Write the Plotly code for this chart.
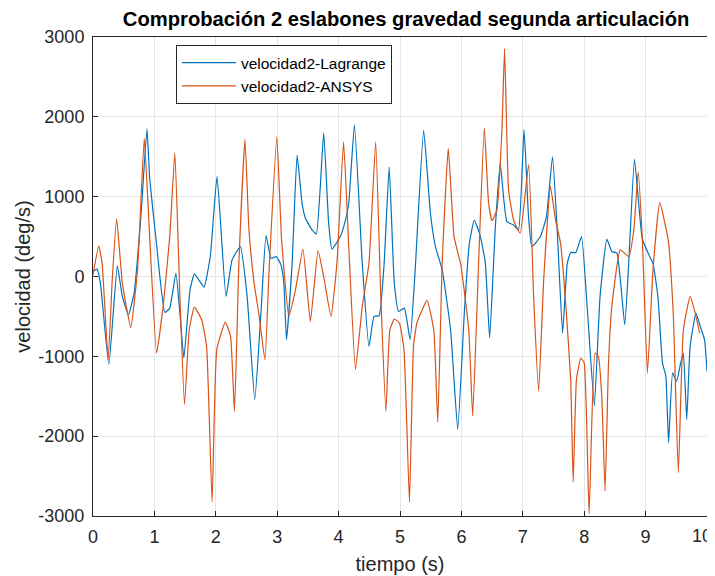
import plotly.graph_objects as go

# Lagrange series (time s, velocity deg/s)
t_lag = [0.00, 0.066, 0.12, 0.258, 0.396, 0.478, 0.577, 0.67, 0.78, 0.879, 0.923, 1.033, 1.17, 1.25,
         1.35, 1.415, 1.48, 1.58, 1.65, 1.74, 1.81, 1.91, 2.02, 2.166, 2.265, 2.40, 2.51, 2.635, 2.735,
         2.818, 2.90, 2.983, 3.06, 3.108, 3.151, 3.243, 3.324, 3.405, 3.46, 3.568, 3.638, 3.757, 3.838,
         3.892, 4.027, 4.11, 4.165, 4.258, 4.385, 4.495, 4.577, 4.66, 4.742, 4.824, 4.907, 4.978, 5.071,
         5.165, 5.247, 5.385, 5.495, 5.577, 5.687, 5.824, 5.94, 6.05, 6.13, 6.21, 6.31, 6.39, 6.46, 6.55,
         6.632, 6.74, 6.85, 6.93, 7.02, 7.093, 7.148, 7.286, 7.385, 7.484, 7.56, 7.648, 7.725, 7.78, 7.863,
         7.956, 8.055, 8.165, 8.258, 8.368, 8.45, 8.533, 8.66, 8.725, 8.819, 8.945, 9.066, 9.12, 9.2, 9.275,
         9.33, 9.374, 9.44, 9.505, 9.571, 9.615, 9.67, 9.725, 9.82, 9.89, 9.96, 10.0]
v_lag = [62, 92, -83, -1104, 133, -250, -479, -208, 750, 1850, 1230, 417, -450, -396,
         42, -458, -1021, -167, 33, -62, -133, 250, 1255, -250, 208, 375, -250, -1542, -458,
         512, 229, 250, 150, -83, -792, 167, 1521, 917, 729, 583, 533, 1800, 667,
         342, 500, 700, 917, 1904, 167, -875, -500, -492, 167, 1375, -83, -438, -396,
         -792, 83, 1833, 792, 375, 83, -667, -1917, -420, 417, 708, 500, 167, -771, 583,
         1417, 688, 646, 583, 1842, 750, 375, 500, 750, 1500, 583, -708, 167, 300, 300,
         500, -458, -1617, -250, 467, 313, 292, -604, 167, 1467, 479, 250, 167, -250, -1083,
         -1250, -2083, -1208, -1312, -1083, -958, -1792, -875, -458, -625, -792, -1187]

# ANSYS series
t_ans = [0.0, 0.093, 0.148, 0.247, 0.313, 0.385, 0.478, 0.615, 0.725, 0.835, 0.92, 1.035, 1.142, 1.25,
         1.333, 1.415, 1.49, 1.568, 1.65, 1.77, 1.85, 1.94, 2.016, 2.155, 2.24, 2.304, 2.376, 2.475,
         2.54, 2.624, 2.707, 2.80, 2.873, 2.994, 3.07, 3.19, 3.297, 3.42, 3.54, 3.665, 3.757, 3.876,
         3.973, 4.081, 4.165, 4.275, 4.385, 4.495, 4.604, 4.687, 4.77, 4.835, 4.907, 4.99, 5.065, 5.154,
         5.22, 5.275, 5.44, 5.55, 5.615, 5.687, 5.786, 5.88, 5.99, 6.12, 6.184, 6.28, 6.373, 6.443,
         6.497, 6.578, 6.66, 6.703, 6.768, 6.85, 6.957, 7.095, 7.176, 7.258, 7.34, 7.45, 7.533, 7.615,
         7.698, 7.78, 7.82, 7.874, 7.945, 8.0, 8.08, 8.176, 8.23, 8.286, 8.34, 8.396, 8.45, 8.588,
         8.725, 8.808, 8.879, 8.945, 9.03, 9.12, 9.23, 9.368, 9.45, 9.533, 9.615, 9.725, 9.808, 9.88]
v_ans = [21, 383, 167, -1042, -42, 721, -83, -638, 83, 1729, 540, -958, -375, 500,
         1550, -250, -1604, -667, -383, -542, -875, -2820, -917, -571, -750, -1688, 167, 1717,
         583, -83, -500, -1042, 167, 1750, 480, -500, -167, 342, -563, 325, 0, -500,
         167, 1688, 375, -1167, -375, 167, 1688, -250, -1688, -667, -533, -583, -917, -2825,
         -875, -583, -300, -667, -1825, 167, 1604, 500, 146, -667, -1750, 167, 1862, 917,
         700, 833, 1833, 2854, 1083, 708, 542, 1402, -250, -1437, -42, 1125, 708, 417,
         -333, -1292, -2575, -1292, -1021, -1083, -2970, -958, -1000, -1500, -2688, -1083, -375, 333,
         250, 583, 1312, 500, -1208, 83, 925, 458, -458, -2458, -667, -250, -458, -708]

x_ticks = [0, 1, 2, 3, 4, 5, 6, 7, 8, 9, 10]
x_ticktext = ["0", "1", "2", "3", "4", "5", "6", "7", "8", "9", ""]  # "10" drawn as annotation below
x_last_label = "10"
y_ticks = [-3000, -2000, -1000, 0, 1000, 2000, 3000]
y_ticktext = ["-3000", "-2000", "-1000", "0", "1000", "2000", "3000"]

FONT = "Liberation Sans, Arial, sans-serif"

fig = go.Figure()
fig.add_trace(go.Scatter(x=t_lag, y=v_lag, mode="lines", name="velocidad2-Lagrange",
                         line=dict(color="#0072BD", width=1.2, shape="spline", smoothing=0.4)))
fig.add_trace(go.Scatter(x=t_ans, y=v_ans, mode="lines", name="velocidad2-ANSYS",
                         line=dict(color="#D95319", width=1.2, shape="spline", smoothing=0.4)))

axis_common = dict(showline=True, linecolor="#262626", linewidth=1, mirror=True,
                   ticks="inside", ticklen=5, tickcolor="#262626",
                   showgrid=True, gridcolor="#e6e6e6", gridwidth=1, zeroline=False,
                   automargin=False,
                   tickfont=dict(family=FONT, size=18, color="#262626"))

# page body adds an 8px offset, so the figure is sized 707x568
fig.update_layout(
    width=707, height=568,
    margin=dict(l=85, r=8, t=29, b=60),
    paper_bgcolor="white", plot_bgcolor="white",
    title=dict(text="<b>Comprobación 2 eslabones gravedad segunda articulación</b>",
               x=0.51, xref="paper", xanchor="center",
               y=1 - 11 / 568, yref="container", yanchor="middle",
               font=dict(family=FONT, size=20.2, color="black")),
    xaxis=dict(range=[0, 10], tickvals=x_ticks, ticktext=x_ticktext, ticklabelstandoff=4,
               title=dict(text="tiempo (s)", standoff=11,
                          font=dict(family=FONT, size=20, color="#262626")),
               **axis_common),
    yaxis=dict(range=[-3000, 3000], tickvals=y_ticks, ticktext=y_ticktext, ticklabelstandoff=4,
               title=dict(text="velocidad (deg/s)", standoff=2,
                          font=dict(family=FONT, size=20, color="#262626")),
               **axis_common),
    legend=dict(x=0.135, y=0.983, xanchor="left", yanchor="top",
                bgcolor="white", bordercolor="#262626", borderwidth=1,
                font=dict(family=FONT, size=15.5, color="black"),
                itemwidth=54, tracegroupgap=0),
    showlegend=True,
)

fig.add_annotation(text=x_last_label, xref="paper", yref="paper", x=1.011, y=0,
                   xanchor="right", yanchor="middle", yshift=-20, showarrow=False,
                   font=dict(family=FONT, size=18, color="#262626"))

fig.write_html("out.html")
